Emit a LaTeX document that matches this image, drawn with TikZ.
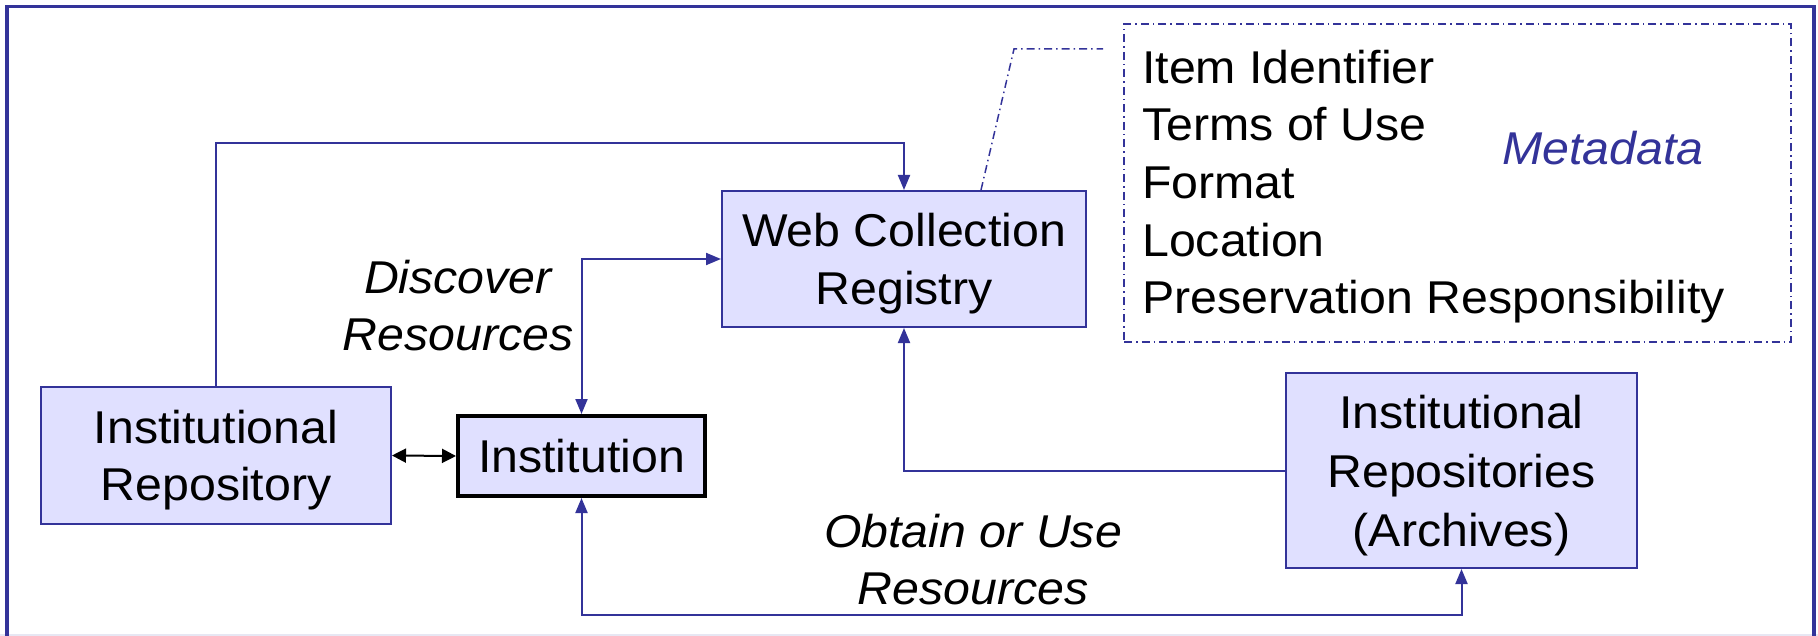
\documentclass[tikz,border=0pt]{standalone}
\usepackage{fontspec}
\setmainfont{Liberation Sans}[FakeStretch=1.05]
\usetikzlibrary{arrows.meta}

\definecolor{linkblue}{RGB}{51,51,153}
\definecolor{boxfill}{RGB}{224,224,255}
% keep a line's height but drop its descender, so box text centres on the letters
\newcommand\nodescent[1]{\raisebox{0pt}[\height][0pt]{#1}}

\begin{document}
\begin{tikzpicture}[x=1pt, y=-1pt,
  boxfont/.style={font=\fontsize{46}{57.5}\selectfont},
  labelfont/.style={font=\fontsize{46}{57}\selectfont\itshape},
  box/.style={boxfont, align=center, rectangle, draw=linkblue, line width=2pt, fill=boxfill, inner sep=0pt},
  hub/.style={boxfont, align=center, rectangle, draw=black, line width=4pt, fill=boxfill, inner sep=0pt},
  metabox/.style={rectangle, draw=linkblue, line width=1.5pt, dash pattern=on 8pt off 4pt on 1.5pt off 4pt},
  metaline/.style={draw=linkblue, line width=1.5pt, dash pattern=on 8pt off 4pt on 1.5pt off 4pt},
  conn/.style={draw=linkblue, line width=2pt, >={Triangle[length=15pt,width=12pt]}},
  twoway/.style={draw=black, line width=2pt, {Triangle[length=14pt,width=14pt]}-{Triangle[length=14pt,width=14pt]}},
  caption/.style={labelfont, align=center, inner sep=0pt, anchor=base}
]
\useasboundingbox (0,0) rectangle (1818,636);

% slide frame
\draw[linkblue!12, line width=2pt] (0,635) -- (1818,635);
\draw[linkblue, line width=3.5pt] (7,650) -- (7,6.5) -- (1814,6.5) -- (1814,650);

% boxes
\node[box, minimum width=350pt, minimum height=137pt] (ir) at (216,455.5)
  {Institutional\\\nodescent{Repository}};
\node[hub, minimum width=247pt, minimum height=80pt] (inst) at (581.5,456)
  {Institution};
\node[box, minimum width=364pt, minimum height=136pt] (wcr) at (904,259)
  {Web Collection\\\nodescent{Registry}};
\node[box, font=\fontsize{46}{59}\selectfont, minimum width=351pt, minimum height=195pt] (ira) at (1461.5,470.5)
  {Institutional\\Repositories\\\nodescent{(Archives)}};

% metadata panel (a multi-line node's base is its last line)
\node[metabox, minimum width=667pt, minimum height=318pt] (meta) at (1457.5,183) {};
\node[font=\fontsize{46}{57.7}\selectfont, align=left, inner sep=0pt, anchor=base west] (items) at (1142,314)
  {Item Identifier\\Terms of Use\\Format\\Location\\Preservation Responsibility};
\node[font=\fontsize{46}{57}\selectfont\itshape, text=linkblue, inner sep=0pt, anchor=base] (metaname) at (1603,165) {Metadata};

% captions
\node[caption] (discover) at (458,350) {Discover\\Resources};
\node[caption] (obtain) at (973,604) {Obtain or Use\\Resources};

% routing points
\coordinate (topy) at (0,143);
\coordinate (boty) at (0,615);
\coordinate (bend) at (1014,49);
\coordinate (mlink) at (1103,49);

% connectors
\draw[conn, ->] (ir.north) |- (wcr.north |- topy) -- (wcr.north);
\draw[twoway] (ir.east) -- (inst.west);
\draw[conn, <->] (inst.north) |- (wcr.west);
\draw[conn, ->] (ira.west) -| (wcr.south);
\draw[conn, <->] (inst.south) -- (inst.south |- boty) -| (ira.south);
\draw[metaline] ([xshift=77pt]wcr.north) -- (bend) -- (mlink);
\end{tikzpicture}
\end{document}
